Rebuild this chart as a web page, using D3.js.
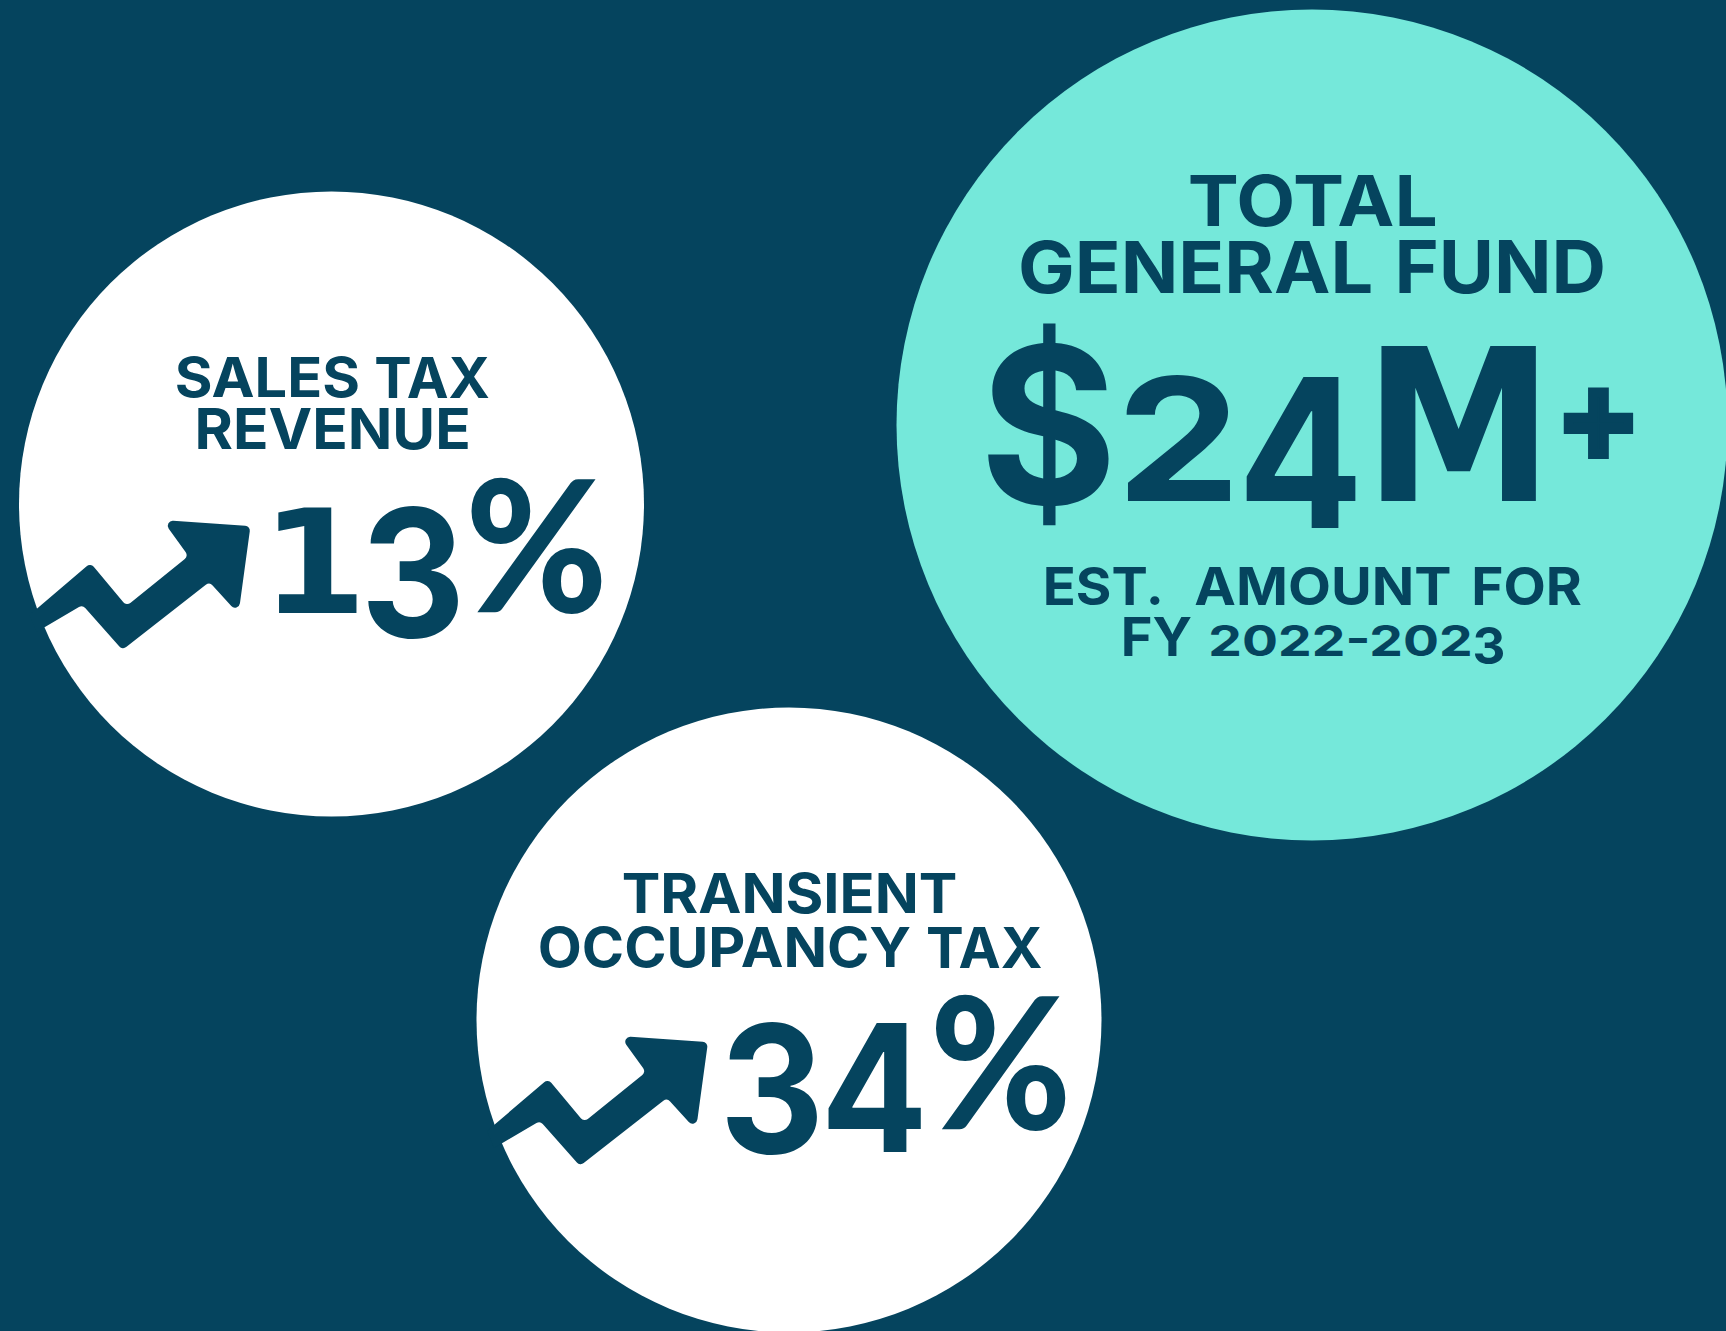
<!DOCTYPE html>
<html>
<head>
<meta charset="utf-8">
<script src="https://d3js.org/d3.v7.min.js"></script>
<style>
html, body { margin: 0; padding: 0; background: #05445e; }
svg { display: block; }
</style>
</head>
<body>
<div id="chart"></div>
<script>
var WIDTH = 1726;
var HEIGHT = 1331;
var DARK = "#05445e";
var TEAL = "#75e8da";
var FONT = "Inter";
var CORNER = 5;

// glyphs where another installed face is nearer to the reference than Inter
var glyphFonts = {
    "1": { family: "DejaVu Sans", weight: 700 },
    "M": { family: "DejaVu Sans", weight: 700 },
    "+": { family: "DejaVu Sans", weight: 700, stroke: 10 },
    "%": { family: "Lato", weight: 900 }
};

// the three figures
var statNames = ["general", "sales", "occupancy"];
var statValues = ["$24M+", "13%", "34%"];
var statTitles = [
    ["TOTAL", "GENERAL FUND"],
    ["SALES TAX", "REVENUE"],
    ["TRANSIENT", "OCCUPANCY TAX"]
];
var statNotes = [["EST. AMOUNT FOR", "FY 2022-2023"], [], []];

// layout, separate from the content above
var circles = [
    { name: "general", cx: 1312, cy: 425, r: 415.5, fill: TEAL, arrow: false },
    { name: "sales", cx: 331.5, cy: 504, r: 312.5, fill: "#fff", arrow: true },
    { name: "occupancy", cx: 789, cy: 1020, r: 312.5, fill: "#fff", arrow: true }
];

// ink boxes of each text piece: [left, top, right, bottom]
var pieces = {
    "TOTAL": [["TOTAL", 1190, 174, 1435, 226.5]],
    "GENERAL FUND": [["GENERAL", 1021, 240.5, 1370.5, 294], ["FUND", 1399, 240.5, 1603, 294]],
    "$24M+": [["$", 988, 323, 1110, 526], ["2", 1126, 374, 1231, 500.5], ["4", 1245, 376, 1357, 528], ["M", 1381, 346, 1537, 500.5], ["+", 1563, 387, 1634, 459]],
    "EST. AMOUNT FOR": [["EST.", 1046, 566, 1160, 605.5], ["AMOUNT", 1195.5, 566, 1450, 605.5], ["FOR", 1474.5, 566, 1581, 605.5]],
    "FY 2022-2023": [["FY", 1124, 617, 1191, 656], ["2022-202", 1211, 624.5, 1470, 656], ["3", 1474.5, 627, 1503, 665]],
    "SALES TAX": [["SALES", 177, 356, 358, 397.5], ["TAX", 376, 356, 489, 397.5]],
    "REVENUE": [["REVENUE", 198, 408, 468, 449.5]],
    "13%": [["1", 278, 507, 357, 613], ["3", 367, 506, 458, 639], ["%", 470.5, 479, 603, 614]],
    "TRANSIENT": [["TRANSIENT", 623.5, 873, 955.7, 914]],
    "OCCUPANCY TAX": [["OCCUPANCY", 540, 927, 910, 968], ["TAX", 927.6, 927, 1041.5, 968]],
    "34%": [["3", 726, 1022, 817, 1155], ["4", 827, 1023, 922, 1152], ["%", 935, 996, 1067, 1131]]
};

// rising arrow outline, relative to the centre of its circle
// the first and last points sit outside the disc, where it blends into the background
var arrowShape = [
    [-302, 111], [-241, 59], [-205, 102], [-143, 52], [-169, 16],
    [-81, 22], [-93, 110], [-122, 78], [-209, 146],
    [-249, 101], [-295, 128]
];

var svg = d3.select("#chart")
            .append("svg")
            .attr("width", WIDTH)
            .attr("height", HEIGHT);

svg.append("rect")
   .attr("width", WIDTH)
   .attr("height", HEIGHT)
   .attr("fill", DARK);

svg.selectAll(".disc")
   .data(circles)
   .enter()
   .append("circle")
   .attr("class", "disc")
   .attr("cx", function(d) { return d.cx; })
   .attr("cy", function(d) { return d.cy; })
   .attr("r", function(d) { return d.r; })
   .attr("fill", function(d) { return d.fill; });

// polygon with rounded corners, the two outer points stay sharp
function arrowPath(pts) {
    var p = d3.path();
    var last = pts.length - 1;
    p.moveTo(pts[0][0], pts[0][1]);
    for(var i = 1; i < last; i++) {
        p.arcTo(pts[i][0], pts[i][1], pts[i + 1][0], pts[i + 1][1], CORNER);
    }
    p.lineTo(pts[last][0], pts[last][1]);
    p.closePath();
    return p.toString();
}

svg.selectAll(".arrow")
   .data(circles.filter(function(d) { return d.arrow; }))
   .enter()
   .append("path")
   .attr("class", "arrow")
   .attr("d", arrowPath(arrowShape))
   .attr("transform", function(d) { return "translate(" + d.cx + "," + d.cy + ")"; })
   .attr("fill", DARK);

var ctx = document.createElement("canvas").getContext("2d");

// one text element per line, each piece fitted to its box as a tspan
function drawLine(str) {
    var text = svg.append("text")
                  .attr("font-family", FONT)
                  .attr("font-weight", 700)
                  .attr("fill", DARK);
    pieces[str].forEach(function(p, i) {
        var face = glyphFonts[p[0]] || { family: FONT, weight: 700 };
        var inset = (face.stroke || 0) / 2;
        ctx.font = face.weight + " 100px '" + face.family + "'";
        var m = ctx.measureText(p[0]);
        var inkW = m.actualBoundingBoxRight + m.actualBoundingBoxLeft;
        var inkH = m.actualBoundingBoxAscent + m.actualBoundingBoxDescent;
        var size = (p[4] - p[2] - 2 * inset) / inkH * 100;
        var stretch = (p[3] - p[1] - 2 * inset) / (inkW * size / 100);
        var left = m.actualBoundingBoxLeft * size / 100 * stretch;
        if(i > 0 && str.indexOf(pieces[str][i - 1][0] + " ") >= 0) {
            text.append("tspan").text(" ");
        }
        var span = text.append("tspan")
            .attr("x", p[1] + inset + left)
            .attr("y", p[4] - inset - m.actualBoundingBoxDescent * size / 100)
            .attr("font-family", face.family)
            .attr("font-weight", face.weight)
            .attr("font-size", size)
            .attr("textLength", m.width * size / 100 * stretch)
            .attr("lengthAdjust", "spacingAndGlyphs")
            .text(p[0]);
        if(face.stroke) {
            span.attr("stroke", DARK).attr("stroke-width", face.stroke);
        }
    });
}

statNames.forEach(function(name, i) {
    statTitles[i].forEach(drawLine);
    drawLine(statValues[i]);
    statNotes[i].forEach(drawLine);
});
</script>
</body>
</html>
